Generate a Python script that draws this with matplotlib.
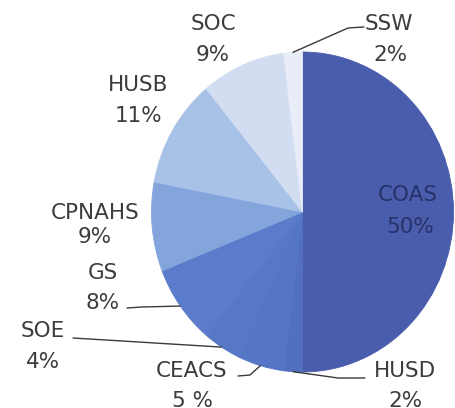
import numpy as np
import matplotlib
matplotlib.use("Agg")
import matplotlib.pyplot as plt

# Share of the total by school/college, clockwise from 12 o'clock
units = ["COAS", "HUSD", "CEACS", "SOE", "GS", "CPNAHS", "HUSB", "SOC", "SSW"]
shares = [50, 2, 5, 4, 8, 9, 11, 9, 2]
colors = ["#4a5cac", "#5270c0", "#5575c5", "#5778c7", "#5a7cca",
          "#84a5dc", "#a8c1e7", "#d3ddf1", "#e8edf8"]

W, H = 455, 408
CX, CY = 302.5, 212   # pie centre in pixels
RX, RY = 151, 160     # horizontal / vertical radius in pixels


def px(x, y):
    """Pixel position (origin top-left) -> data coordinates."""
    return (x - CX) / RX, (CY - y) / RY


fig = plt.figure(figsize=(W / 100, H / 100), dpi=100)
ax = fig.add_axes([0, 0, 1, 1])

wedges, _ = ax.pie(shares, colors=colors, startangle=90, counterclock=False,
                   radius=1.0, center=(0, 0),
                   wedgeprops=dict(linewidth=0.6))
# outline each wedge in its own colour so no seams show between slices
for w in wedges:
    w.set_edgecolor(w.get_facecolor())

ax.set_xlim(-CX / RX, (W - CX) / RX)
ax.set_ylim(-(H - CY) / RY, CY / RY)
ax.set_aspect("auto")
ax.axis("off")

txt = dict(fontsize=15.5, color="#3c3c3c", ha="center", va="center",
           family="DejaVu Sans")

# name line / percentage line centres (pixels)
label_pos = {
    "COAS":   ((408, 195), (410, 227)),
    "HUSD":   ((405, 371), (405, 401)),
    "CEACS":  ((192, 371), (192, 401)),
    "SOE":    ((43, 331), (43, 362)),
    "GS":     ((103, 273), (103, 303)),
    "CPNAHS": ((95, 213), (95, 237)),
    "HUSB":   ((138, 85), (138, 116)),
    "SOC":    ((213, 24), (213, 55)),
    "SSW":    ((389, 24), (390, 55)),
}
pct_text = {"CEACS": "5 %"}

# leader-line ends next to the labels (pixels)
leader_end = {
    "HUSD":  [(338, 378), (365, 378)],
    "CEACS": [(250, 375), (238, 376)],
    "SOE":   [(73, 338)],
    "GS":    [(142, 307), (127, 308)],
    "SSW":   [(348, 28), (364, 27)],
}

cum = np.cumsum([0] + shares)
for i, name in enumerate(units):
    (nx, ny), (qx, qy) = label_pos[name]
    col = "#25336a" if name == "COAS" else txt["color"]
    t = dict(txt, color=col)
    ax.text(*px(nx, ny), name, **t)
    ax.text(*px(qx, qy), pct_text.get(name, f"{shares[i]}%"), **t)
    if name in leader_end:
        mid = (cum[i] + cum[i + 1]) / 2 / sum(shares) * 360
        ang = np.deg2rad(90 - mid)
        xs = [np.cos(ang)]
        ys = [np.sin(ang)]
        for p in leader_end[name]:
            dx, dy = px(*p)
            xs.append(dx)
            ys.append(dy)
        ax.plot(xs, ys, color="#3a3a3a", lw=1.0, solid_capstyle="round")

fig.savefig("out.png", dpi=100)
